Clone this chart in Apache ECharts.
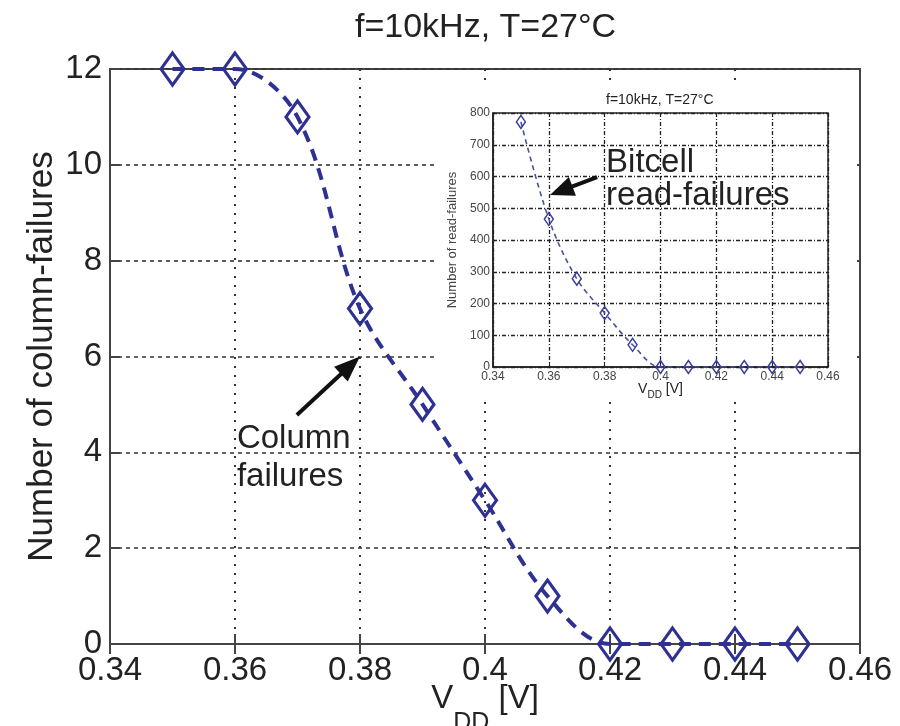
<!DOCTYPE html>
<html><head><meta charset="utf-8">
<script src="https://cdn.jsdelivr.net/npm/echarts@6/dist/echarts.min.js"></script>
<style>html,body{margin:0;padding:0;background:#fff}#c{width:900px;height:726px}</style>
</head><body><div id="c"></div>
<script>
// ---- data ----
const vdd = [0.35, 0.36, 0.37, 0.38, 0.39, 0.40, 0.41, 0.42, 0.43, 0.44, 0.45];
const columnFailures = [12, 12, 11, 7, 5, 3, 1, 0, 0, 0, 0];
const readFailures = [772, 466, 278, 170, 70, 0, 0, 0, 0, 0, 0];
const titleText = 'f=10kHz, T=27°C';
const mainYName = 'Number of column-failures';
const insetYName = 'Number of read-failures';
const colAnnot = ['Column', 'failures'];
const bitAnnot = ['Bitcell', 'read-failures'];

const FONT = '"Liberation Sans", Arial, Helvetica, sans-serif';
const BLUE = '#2e3192';
const INK = '#222';
const fmt = v => String(+v.toFixed(2));

const mainPairs = vdd.map((x, i) => [x, columnFailures[i]]);
const insetPairs = vdd.map((x, i) => [x, readFailures[i]]);

const chart = echarts.init(document.getElementById('c'), null, {renderer: 'canvas'});

const xCommon = {type: 'value', min: 0.34, max: 0.46, interval: 0.02};

const option = {
  animation: false,
  backgroundColor: '#fff',
  textStyle: {fontFamily: FONT},
  title: [
    {text: titleText, left: 350, top: 6, textStyle: {fontFamily: FONT, fontSize: 34, fontWeight: 'normal', color: INK}},
    {text: titleText, left: 601, top: 88, textStyle: {fontFamily: FONT, fontSize: 14, fontWeight: 'normal', color: INK}, z: 5}
  ],
  grid: [
    {left: 110, right: 40, top: 69, bottom: 82, containLabel: false, outerBoundsMode: 'none', show: true, borderColor: '#444', borderWidth: 2, backgroundColor: 'transparent'},
    {left: 493, right: 72, top: 113, bottom: 359, containLabel: false, outerBoundsMode: 'none', show: true, borderColor: '#222', borderWidth: 1.5, backgroundColor: '#fff', z: 3}
  ],
  xAxis: [
    Object.assign({}, xCommon, {
      gridIndex: 0, position: 'bottom', z: 0,
      name: '{v|V}{s|DD}{v| [V]}', nameLocation: 'middle', nameGap: 38, nameMoveOverlap: false,
      nameTextStyle: {rich: {
        v: {fontFamily: FONT, fontSize: 33, color: INK, lineHeight: 34, verticalAlign: 'top'},
        s: {fontFamily: FONT, fontSize: 25, color: INK, padding: [29, 0, 0, 0], lineHeight: 30, verticalAlign: 'top'}
      }},
      axisLine: {show: true, lineStyle: {color: '#444', width: 2}},
      axisTick: {show: true, inside: true, length: 10, lineStyle: {color: '#444', width: 2}},
      axisLabel: {formatter: fmt, fontFamily: FONT, fontSize: 33, color: INK, margin: 10},
      splitLine: {show: true, lineStyle: {color: '#333', width: 2, type: [2, 7]}}
    }),
    Object.assign({}, xCommon, {
      gridIndex: 0, position: 'top', z: 0,
      axisLine: {show: true, lineStyle: {color: '#444', width: 2}},
      axisTick: {show: true, inside: true, length: 10, lineStyle: {color: '#444', width: 2}},
      axisLabel: {show: false}, splitLine: {show: false}
    }),
    Object.assign({}, xCommon, {
      gridIndex: 1, position: 'bottom', z: 4,
      name: '{v|V}{s|DD}{v| [V]}', nameLocation: 'middle', nameGap: 15, nameMoveOverlap: false,
      nameTextStyle: {rich: {
        v: {fontFamily: FONT, fontSize: 14, color: INK, lineHeight: 15, verticalAlign: 'top'},
        s: {fontFamily: FONT, fontSize: 10, color: INK, padding: [8, 0, 0, 0], lineHeight: 12, verticalAlign: 'top'}
      }},
      axisLine: {show: true, lineStyle: {color: '#222', width: 1.5}},
      axisTick: {show: true, inside: true, length: 4, lineStyle: {color: '#222', width: 1}},
      axisLabel: {formatter: fmt, fontFamily: FONT, fontSize: 12, color: '#444', margin: 4},
      splitLine: {show: true, lineStyle: {color: '#222', width: 1.3, type: [4, 2, 1, 2]}}
    })
  ],
  yAxis: [
    {
      type: 'value', gridIndex: 0, min: 0, max: 12, interval: 2, position: 'left', z: 0,
      name: mainYName, nameLocation: 'middle', nameGap: 50, nameMoveOverlap: false,
      nameTextStyle: {fontFamily: FONT, fontSize: 35, color: INK},
      axisLine: {show: true, lineStyle: {color: '#444', width: 2}},
      axisTick: {show: true, inside: true, length: 10, lineStyle: {color: '#444', width: 2}},
      axisLabel: {fontFamily: FONT, fontSize: 33, color: INK, margin: 8},
      splitLine: {show: true, lineStyle: {color: '#333', width: 1.6, type: [4, 4]}}
    },
    {
      type: 'value', gridIndex: 0, min: 0, max: 12, interval: 2, position: 'right', z: 0,
      axisLine: {show: true, lineStyle: {color: '#444', width: 2}},
      axisTick: {show: true, inside: true, length: 10, lineStyle: {color: '#444', width: 2}},
      axisLabel: {show: false}, splitLine: {show: false}
    },
    {
      type: 'value', gridIndex: 1, min: 0, max: 800, interval: 100, position: 'left', z: 4,
      name: insetYName, nameLocation: 'middle', nameGap: 34, nameMoveOverlap: false,
      nameTextStyle: {fontFamily: FONT, fontSize: 13, color: '#444'},
      axisLine: {show: true, lineStyle: {color: '#222', width: 1.5}},
      axisTick: {show: true, inside: true, length: 4, lineStyle: {color: '#222', width: 1}},
      axisLabel: {fontFamily: FONT, fontSize: 12, color: '#444', margin: 3},
      splitLine: {show: true, lineStyle: {color: '#222', width: 1.3, type: [4, 2, 1, 2]}}
    }
  ],
  series: [
    {
      type: 'line', xAxisIndex: 0, yAxisIndex: 0, data: mainPairs, smooth: 0.35, z: 2,
      symbol: 'diamond', symbolSize: [23, 32],
      lineStyle: {color: BLUE, width: 4, type: [12, 8]},
      itemStyle: {color: 'rgba(0,0,0,0)', borderColor: BLUE, borderWidth: 3.2}
    },
    {
      type: 'line', xAxisIndex: 2, yAxisIndex: 2, data: insetPairs, smooth: 0.35, z: 6,
      symbol: 'diamond', symbolSize: [9, 13],
      lineStyle: {color: '#4a4ea6', width: 1.6, type: [5, 4]},
      itemStyle: {color: 'rgba(0,0,0,0)', borderColor: '#3a3e9c', borderWidth: 1.5}
    }
  ]
};
chart.setOption(option);

// annotations placed in data coordinates
function px(axisIdx, pt) { return chart.convertToPixel({xAxisIndex: axisIdx, yAxisIndex: axisIdx}, pt); }
function arrow(tail, tip, headLen, headHalf, width) {
  const dx = tip[0] - tail[0], dy = tip[1] - tail[1];
  const L = Math.hypot(dx, dy), ux = dx / L, uy = dy / L;
  const bx = tip[0] - ux * headLen, by = tip[1] - uy * headLen;
  return [
    {type: 'line', z: 20, shape: {x1: tail[0], y1: tail[1], x2: bx + ux * 2, y2: by + uy * 2}, style: {stroke: '#111', lineWidth: width}},
    {type: 'polygon', z: 20, shape: {points: [tip, [bx - uy * headHalf, by + ux * headHalf], [bx + uy * headHalf, by - ux * headHalf]]}, style: {fill: '#111'}}
  ];
}
const colTextPos = px(0, [0.3603, 4.67]);
const bitTextPos = px(2, [0.3805, 694]);
const colArrow = arrow(px(0, [0.3699, 4.78]), px(0, [0.38, 6.0]), 26, 10, 4);
const bitArrow = arrow(px(2, [0.3773, 598]), px(2, [0.3604, 542]), 24, 10, 4);

const insetBgTL = [437, 84], insetBgBR = [857, 402];
chart.setOption({
  graphic: [
    {type: 'rect', z: 1, shape: {x: insetBgTL[0], y: insetBgTL[1], width: insetBgBR[0] - insetBgTL[0], height: insetBgBR[1] - insetBgTL[1]}, style: {fill: '#fff'}},
    {type: 'text', z: 20, x: colTextPos[0], y: colTextPos[1], style: {text: colAnnot.join('\n'), fontFamily: FONT, fontSize: 33, lineHeight: 38, fill: INK}},
    {type: 'text', z: 20, x: bitTextPos[0], y: bitTextPos[1], style: {text: bitAnnot.join('\n'), fontFamily: FONT, fontSize: 33, lineHeight: 33, fill: INK}}
  ].concat(colArrow, bitArrow)
});
</script>
</body></html>
